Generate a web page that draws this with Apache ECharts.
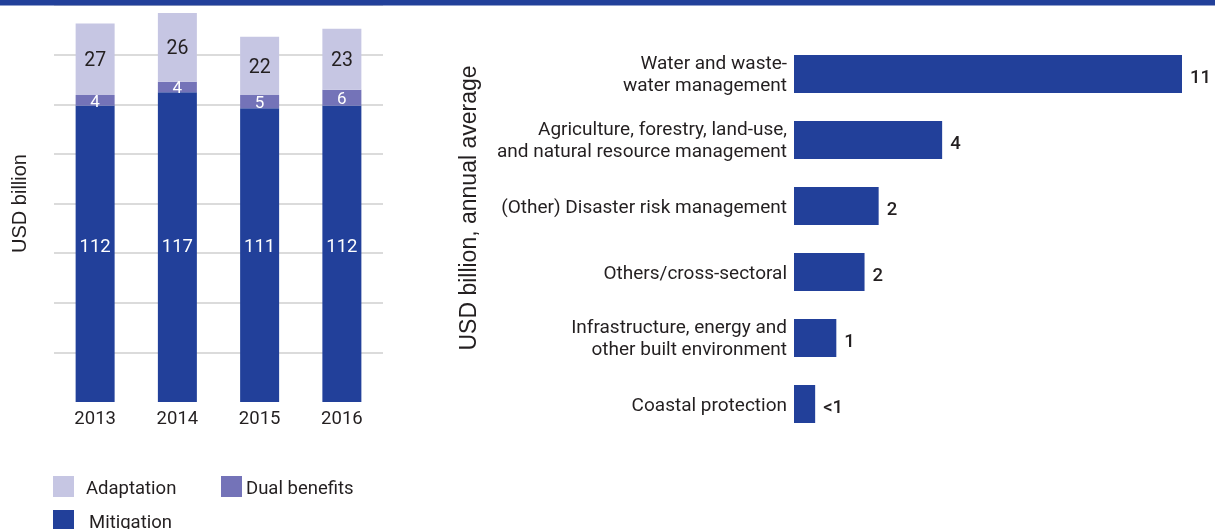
<!DOCTYPE html>
<html>
<head>
<meta charset="utf-8">
<script src="https://cdn.jsdelivr.net/npm/echarts@6/dist/echarts.min.js"></script>
<style>
  html, body { margin: 0; padding: 0; background: #ffffff; }
  #chart { width: 1215px; height: 529px; }
</style>
</head>
<body>
<div id="chart"></div>
<script>
const years = ["2013", "2014", "2015", "2016"];
const mitigation = [112, 117, 111, 112];
const dualBenefits = [4, 4, 5, 6];
const adaptation = [27, 26, 22, 23];

const sectors = [
  "Water and waste-\nwater management",
  "Agriculture, forestry, land-use,\nand natural resource management",
  "(Other) Disaster risk management",
  "Others/cross-sectoral",
  "Infrastructure, energy and\nother built environment",
  "Coastal protection"
];
const sectorValues = [11, 4.2, 2.4, 2, 1.2, 0.6];
const sectorLabels = ["11", "4", "2", "2", "1", "<1"];

const dark = "#22409a";
const mid = "#7473b8";
const light = "#c6c6e3";
const textColor = "#231f20";
const font = "Roboto";
const nameFont = "Liberation Sans";

const chart = echarts.init(document.getElementById("chart"), null, { renderer: "canvas" });

function legendAt(name, left, top, gap) {
  return {
    data: [name],
    left,
    top,
    icon: "rect",
    itemWidth: 21,
    itemHeight: 21,
    itemGap: 0,
    padding: 0,
    selectedMode: false,
    textStyle: {
      color: textColor,
      fontFamily: font,
      fontSize: 18.5,
      rich: { t: { fontFamily: font, fontSize: 18.5, color: textColor, padding: [5, 0, 0, gap - 5] } }
    },
    formatter: (n) => "{t|" + n + "}"
  };
}

// first line gets a little top padding so labels sit slightly below bar centres
function sectorLabel(v) {
  return v.split("\n").map((s, i) => (i === 0 ? "{a|" : "{b|") + s + "}").join("\n");
}

chart.setOption({
  animation: false,
  backgroundColor: "#ffffff",
  textStyle: { fontFamily: font },
  graphic: [
    { type: "rect", left: 0, top: 0, shape: { width: 1215, height: 5.5 }, style: { fill: dark }, z: 100 },
    {
      type: "text",
      x: 470,
      y: 208,
      rotation: Math.PI / 2,
      style: {
        text: "USD billion, annual average",
        fill: textColor,
        font: "23px 'Liberation Sans'",
        align: "center",
        verticalAlign: "middle"
      }
    }
  ],
  legend: [
    legendAt("Adaptation", 53, 476, 12),
    legendAt("Dual benefits", 221, 476, 4),
    legendAt("Mitigation", 53, 510, 15)
  ],
  grid: [
    { left: 54, right: 832, top: 5, bottom: 127 },
    { left: 794, right: 33, top: 41, bottom: 92 }
  ],
  xAxis: [
    {
      gridIndex: 0,
      type: "category",
      data: years,
      axisLine: { show: false },
      axisTick: { show: false },
      axisLabel: { color: textColor, fontFamily: font, fontSize: 18.5, margin: 8 }
    },
    {
      gridIndex: 1,
      type: "value",
      min: 0,
      max: 11,
      show: false
    }
  ],
  yAxis: [
    {
      gridIndex: 0,
      type: "value",
      min: 0,
      max: 150,
      interval: 18.75,
      axisLabel: { show: false },
      axisLine: { show: false },
      axisTick: { show: false },
      splitLine: { showMinLine: false, lineStyle: { color: "#cfcfcf", width: 1.5 } },
      name: "USD billion",
      nameLocation: "middle",
      nameRotate: 90,
      nameGap: 24,
      nameTextStyle: { color: textColor, fontFamily: nameFont, fontSize: 20 }
    },
    {
      gridIndex: 1,
      type: "category",
      data: sectors,
      inverse: true,
      axisLine: { show: false },
      axisTick: { show: false },
      splitLine: { show: false },
      axisLabel: {
        color: textColor,
        fontFamily: font,
        fontSize: 19,
        align: "right",
        margin: 7,
        formatter: sectorLabel,
        rich: {
          a: { color: textColor, fontFamily: font, fontSize: 19, lineHeight: 24, padding: [5, 0, 0, 0] },
          b: { color: textColor, fontFamily: font, fontSize: 19, lineHeight: 24 }
        }
      }
    }
  ],
  series: [
    {
      name: "Mitigation",
      type: "bar",
      stack: "total",
      xAxisIndex: 0,
      yAxisIndex: 0,
      barWidth: 39,
      data: mitigation,
      itemStyle: { color: dark },
      label: {
        show: true,
        position: "insideBottom",
        distance: 145,
        color: "#ffffff",
        fontFamily: font,
        fontSize: 18.5
      }
    },
    {
      name: "Dual benefits",
      type: "bar",
      stack: "total",
      xAxisIndex: 0,
      yAxisIndex: 0,
      barWidth: 39,
      data: dualBenefits,
      itemStyle: { color: mid },
      label: {
        show: true,
        position: "inside",
        offset: [0, 2],
        color: "#ffffff",
        fontFamily: font,
        fontSize: 17
      }
    },
    {
      name: "Adaptation",
      type: "bar",
      stack: "total",
      xAxisIndex: 0,
      yAxisIndex: 0,
      barWidth: 39,
      data: adaptation,
      itemStyle: { color: light },
      label: {
        show: true,
        position: "inside",
        offset: [0, 2],
        color: textColor,
        fontFamily: font,
        fontSize: 19.5
      }
    },
    {
      name: "Sectors",
      type: "bar",
      xAxisIndex: 1,
      yAxisIndex: 1,
      barWidth: 38,
      data: sectorValues,
      itemStyle: { color: dark },
      label: {
        show: true,
        position: "right",
        distance: 8,
        offset: [0, 4],
        color: textColor,
        fontFamily: font,
        fontSize: 18.5,
        fontWeight: 500,
        formatter: (p) => sectorLabels[p.dataIndex]
      }
    }
  ]
});
</script>
</body>
</html>
